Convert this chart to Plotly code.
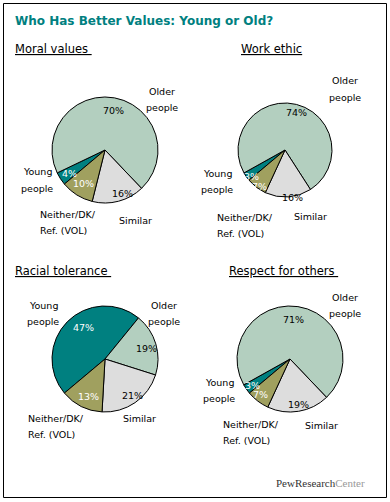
import plotly.graph_objects as go

W, H = 390, 502

# ---- data ----
categories = ["Young people", "Older people", "Similar", "Neither/DK/Ref. (VOL)"]
moral_values = [4, 70, 16, 10]
work_ethic = [3, 74, 16, 7]
racial_tolerance = [47, 19, 21, 13]
respect_for_others = [3, 71, 19, 7]
panel_titles = ["Moral values", "Work ethic", "Racial tolerance", "Respect for others"]
title_text = "Who Has Better Values: Young or Old?"

colors = ["#008080", "#B3CFBF", "#DDDDDD", "#A0A05F"]
pct_colors = ["white", "black", "black", "white"]

def X(px):
    return px / W

def Y(py):
    return 1 - py / H

# panel layout: (center x, center y, radius) in pixels
panels = [
    (moral_values, (105, 150, 53)),
    (work_ethic, (285, 150, 47)),
    (racial_tolerance, (105, 359, 53)),
    (respect_for_others, (290, 359, 53)),
]

fig = go.Figure()
for vals, (cx, cy, r) in panels:
    fig.add_trace(go.Pie(
        labels=categories, values=vals, sort=False, direction="clockwise",
        rotation=230, textinfo="none", hoverinfo="label+percent",
        marker=dict(colors=colors, line=dict(color="#000000", width=1)),
        domain=dict(x=[X(cx - r), X(cx + r)], y=[Y(cy + r), Y(cy - r)]),
        showlegend=False,
    ))

ann = []

def txt(s, x, y, color="#000000", xanchor="center", size=9.5, family="DejaVu Sans"):
    ann.append(dict(text=s, x=X(x), y=Y(y), xref="paper", yref="paper",
                    showarrow=False, xanchor=xanchor, yanchor="middle",
                    font=dict(family=family, size=size, color=color)))

# title
txt("<b>" + title_text + "</b>", 13, 21, color="#008080", xanchor="left", size=12)

# panel titles (underlined)
for t, (x, y) in zip(panel_titles, [(13, 49), (239, 49), (13, 271), (227, 271)]):
    txt("<u>" + t + "\u00a0</u>" if t != "Work ethic" else "<u>" + t + "</u>",
        x, y, xanchor="left", size=11.5)

# category labels: per panel positions of (older, young, neither, similar)
cat_pos = [
    dict(older=(162, 91), young=(37, 172), neither=(38, 214), similar=(117, 220)),
    dict(older=(345, 81), young=(217, 173), neither=(215, 217), similar=(292, 216)),
    dict(older=(164, 305), young=(43, 305), neither=(26, 418), similar=(121, 418)),
    dict(older=(345, 297), young=(219, 382), neither=(221, 424), similar=(303, 425)),
]
for p in cat_pos:
    ox, oy = p["older"]
    txt("Older", ox, oy); txt("people", ox, oy + 16)
    yx, yy = p["young"]
    txt("Young", yx, yy); txt("people", yx, yy + 16)
    nx, ny = p["neither"]
    txt("Neither/DK/", nx, ny, xanchor="left"); txt("Ref. (VOL)", nx, ny + 16, xanchor="left")
    sx, sy = p["similar"]
    txt("Similar", sx, sy, xanchor="left")

# percentage labels positions (young, older, similar, neither)
pct_pos = [
    [(69, 173), (113, 110), (122, 193), (83, 183)],
    [(251, 176), (296, 112), (292, 197), (259, 186)],
    [(83, 327), (146, 348), (132, 395), (88, 396)],
    [(252, 385), (293, 319), (298, 404), (260, 394)],
]
for (vals, _), pos in zip(panels, pct_pos):
    for v, (x, y), c in zip(vals, pos, pct_colors):
        txt(f"{v}%", x, y, color=c)

# logo
ann.append(dict(text="<span style='color:#333333'>PewResearch</span><span style='color:#999999'>Center</span>",
                x=X(367), y=Y(483), xref="paper", yref="paper", showarrow=False,
                xanchor="right", yanchor="middle",
                font=dict(family="Liberation Serif", size=11)))

fig.update_layout(
    width=W, height=H, margin=dict(l=0, r=0, t=0, b=0),
    paper_bgcolor="white", plot_bgcolor="white",
    annotations=ann,
    shapes=[dict(type="rect", xref="paper", yref="paper",
                 x0=X(3.5), x1=X(386.5), y0=Y(497.5), y1=Y(3.5),
                 line=dict(color="#000000", width=1))],
)

fig.write_html("out.html", config={"displayModeBar": False},
               post_script="document.body.style.margin='0';document.body.style.overflow='hidden';")
